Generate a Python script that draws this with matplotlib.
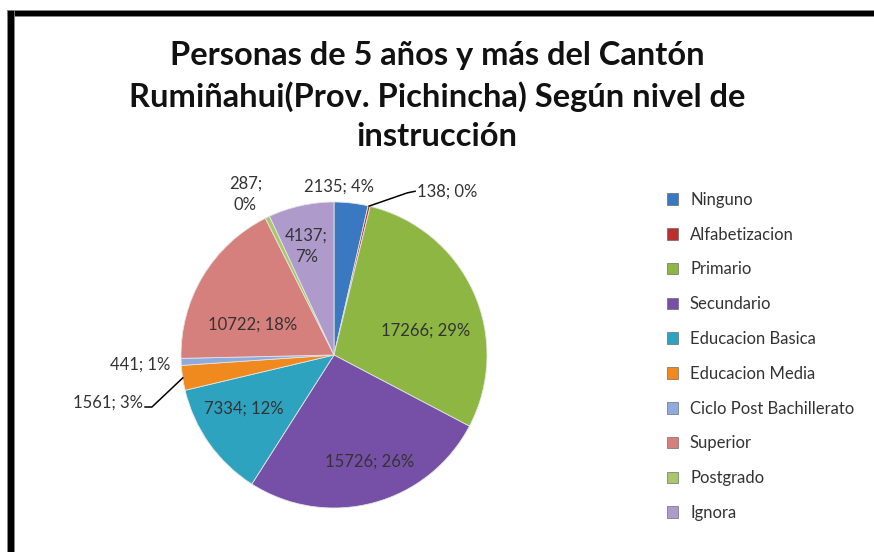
import matplotlib
matplotlib.use("Agg")
import matplotlib.pyplot as plt
from matplotlib.patches import Rectangle
import numpy as np

plt.rcParams['font.family'] = ['Lato', 'DejaVu Sans']

categories = ["Ninguno", "Alfabetizacion", "Primario", "Secundario",
              "Educacion Basica", "Educacion Media", "Ciclo Post Bachillerato",
              "Superior", "Postgrado", "Ignora"]
values = [2135, 138, 17266, 15726, 7334, 1561, 441, 10722, 287, 4137]
colors = ["#3B78C2", "#B8312E", "#8DB643", "#7650A6", "#2EA3BF",
          "#F0891E", "#8FAADC", "#D6807E", "#A9C86C", "#AE9BCB"]

title = "Personas de 5 años y más del Cantón\nRumiñahui(Prov. Pichincha) Según nivel de\ninstrucción"

# label anchor points (pie radius = 1) and alignment
label_pos = {
    "Ninguno": (0.03, 1.10, "center"),
    "Alfabetizacion": (0.545, 1.07, "left"),
    "Primario": (0.60, 0.16, "center"),
    "Secundario": (0.235, -0.70, "center"),
    "Educacion Basica": (-0.59, -0.35, "center"),
    "Educacion Media": (-1.25, -0.31, "right"),
    "Ciclo Post Bachillerato": (-1.07, -0.065, "right"),
    "Superior": (-0.53, 0.20, "center"),
    "Postgrado": (-0.58, 1.05, "center"),
    "Ignora": (-0.18, 0.71, "center"),
}
two_line = {"Postgrado", "Ignora"}

W, H = 874, 552
cx, cy, R = 334, 355, 153

fig = plt.figure(figsize=(W / 100, H / 100), dpi=100)
ax = fig.add_axes([0, 0, 1, 1])

wedges, _ = ax.pie(values, colors=colors, startangle=90, counterclock=False,
                   radius=1, center=(0, 0), frame=True,
                   wedgeprops=dict(edgecolor="#e4e4e4", linewidth=0.6))
ax.set_xlim(-cx / R, (W - cx) / R)
ax.set_ylim((cy - H) / R, cy / R)
ax.axis("off")

total = sum(values)
for w, cat, v in zip(wedges, categories, values):
    pct = round(100 * v / total)
    sep = "\n" if cat in two_line else " "
    txt = f"{v};{sep}{pct}%"
    x, y, ha = label_pos[cat]
    ax.text(x, y, txt, ha=ha, va="center", fontsize=12, color="#333333",
            linespacing=1.35)

# leader lines
for cat, end in [("Alfabetizacion", (0.53, 1.07)), ("Educacion Media", (-1.235, -0.34))]:
    w = wedges[categories.index(cat)]
    mid = np.deg2rad((w.theta1 + w.theta2) / 2)
    ex, ey = np.cos(mid), np.sin(mid)
    if cat == "Alfabetizacion":
        xs = [ex, 0.48, end[0]]
        ys = [ey, 1.06, end[1]]
    else:
        xs = [end[0], -1.19, ex]
        ys = [end[1], end[1], ey]
    ax.plot(xs, ys, color="black", lw=1.1)

fig.text(0.5, 1 - 96 / H, title, ha="center", va="center", fontsize=23.5,
         fontweight="bold", color="#111111", linespacing=1.42)

# legend
handles = [Rectangle((0, 0), 1, 1, facecolor=c, edgecolor="#555555", lw=0.4) for c in colors]
leg = fig.legend(handles, categories, loc="upper left",
                 bbox_to_anchor=(660 / W, 1 - 185 / H), frameon=False,
                 fontsize=12, handlelength=0.7, handleheight=0.7,
                 handletextpad=0.7, labelspacing=1.13, borderaxespad=0)
for t in leg.get_texts():
    t.set_color("#333333")

# frame bars
fig.patches.append(Rectangle((7 / W, 1 - 16 / H), 1, 6 / H, transform=fig.transFigure,
                             facecolor="black", edgecolor="#888888", lw=0.6))
fig.patches.append(Rectangle((7 / W, 0), 7 / W, 1 - 10 / H, transform=fig.transFigure,
                             facecolor="black", edgecolor="#888888", lw=0.6))

fig.savefig("out.png", dpi=100)
